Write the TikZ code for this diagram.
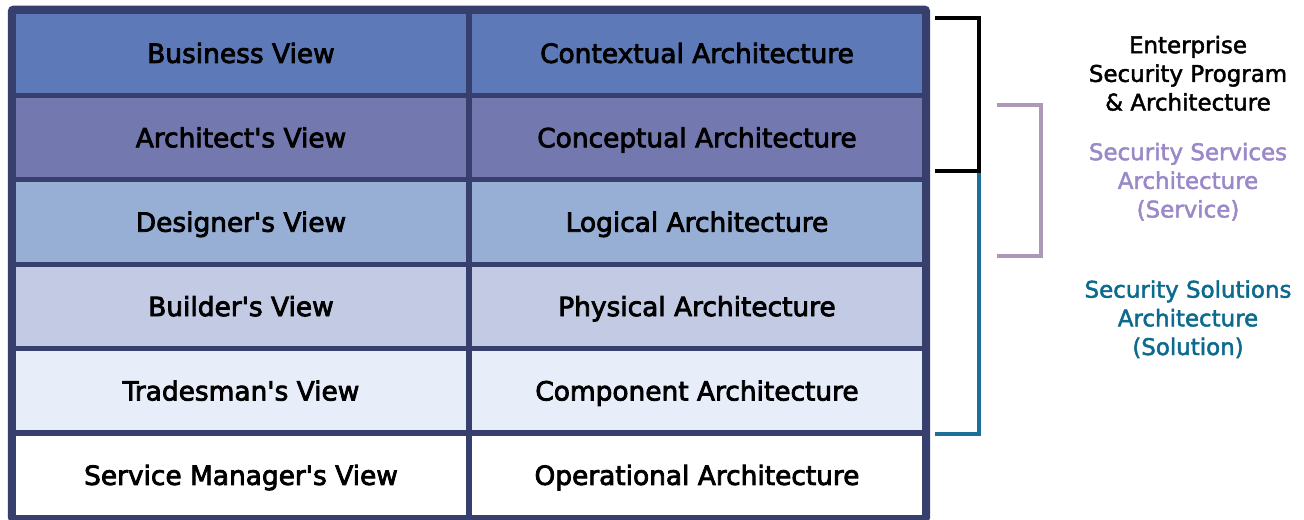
\documentclass[tikz,border=0pt]{standalone}
\usepackage{fontspec}
\newfontfamily\cellfont[FakeBold=3]{DejaVu Sans}
\newfontfamily\sidefont[FakeBold=2]{DejaVu Sans}

\definecolor{gridline}{HTML}{373F6D}
\definecolor{rowA}{HTML}{5E79B7}
\definecolor{rowB}{HTML}{7379AF}
\definecolor{rowC}{HTML}{97AED5}
\definecolor{rowD}{HTML}{C2CBE3}
\definecolor{rowE}{HTML}{E8EEF9}
\definecolor{rowF}{HTML}{FFFFFF}
\definecolor{solteal}{HTML}{1E6E9A}
\definecolor{soltext}{HTML}{0B6A8E}
\definecolor{svcline}{HTML}{AE98B8}
\definecolor{svctext}{HTML}{9A88C8}

\tikzset{
  cell/.style={draw=gridline, line width=3.8pt, minimum width=341.6pt,
    minimum height=63.3pt, inner sep=0pt, text height=14.5pt, text depth=0pt,
    font=\cellfont\fontsize{19.8}{24}\selectfont},
  bracket/.style={line width=2.3pt},
  sidetext/.style={align=center, anchor=base, inner sep=0pt,
    font=\sidefont\fontsize{17.2}{21.5}\selectfont}
}

\begin{document}
\begin{tikzpicture}[x=0.75pt,y=-0.75pt]
\useasboundingbox (0,0) rectangle (1304,519);

% viewpoint / architecture layers
\node[cell, fill=rowA] (bv)  at (241,53.2)  {Business View};
\node[cell, fill=rowA] (ca)  at (697,53.2)  {Contextual Architecture};
\node[cell, fill=rowB] (av)  at (241,137.6) {Architect\textquotesingle s View};
\node[cell, fill=rowB] (cpa) at (697,137.6) {Conceptual Architecture};
\node[cell, fill=rowC] (dv)  at (241,222)   {Designer\textquotesingle s View};
\node[cell, fill=rowC] (la)  at (697,222)   {Logical Architecture};
\node[cell, fill=rowD] (buv) at (241,306.4) {Builder\textquotesingle s View};
\node[cell, fill=rowD] (pa)  at (697,306.4) {Physical Architecture};
\node[cell, fill=rowE] (tv)  at (241,390.8) {Tradesman\textquotesingle s View};
\node[cell, fill=rowE] (coa) at (697,390.8) {Component Architecture};
\node[cell, fill=rowF] (smv) at (241,475.2) {Service Manager\textquotesingle s View};
\node[cell, fill=rowF] (oa)  at (697,475.2) {Operational Architecture};

% outer frame
\draw[gridline, line width=4.2pt, rounded corners=2pt] (bv.north west) rectangle (oa.south east);

% brackets
\coordinate (e1) at (935,18);
\coordinate (e2) at (979,18);
\coordinate (e3) at (979,171);
\coordinate (e4) at (935,171);
\coordinate (s1) at (979,434);
\coordinate (s2) at (935,434);
\coordinate (v1) at (997,105);
\coordinate (v2) at (1041,105);
\coordinate (v3) at (1041,256);
\coordinate (v4) at (997,256);

\draw[bracket, solteal] (e3) -- (s1) -- (s2);
\draw[bracket, black] (e1) -- (e2) -- (e3) -- (e4);
\draw[bracket, svcline] (v1) -- (v2) -- (v3) -- (v4);

% bracket captions (anchored at the baseline of the last line)
\node[sidetext, text=black] (esp) at (1188,110.5)
  {Enterprise\\Security Program\\\& Architecture};
\node[sidetext, text=svctext] (ssa) at (1188,217.5)
  {Security Services\\Architecture\\(Service)};
\node[sidetext, text=soltext] (sla) at (1188,355)
  {Security Solutions\\Architecture\\(Solution)};
\end{tikzpicture}
\end{document}
